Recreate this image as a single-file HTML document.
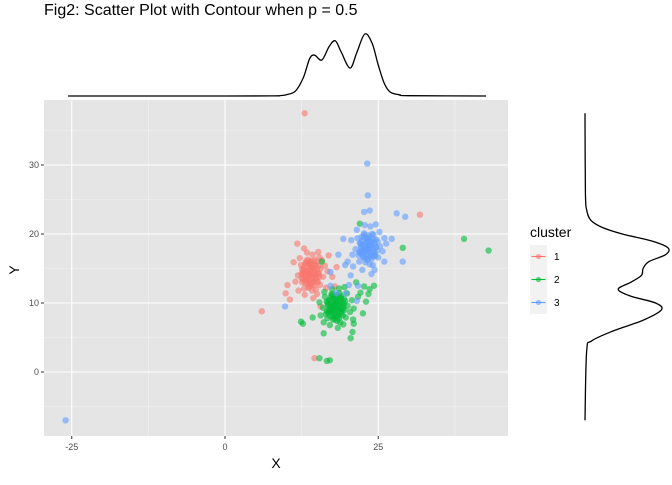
<!DOCTYPE html>
<html><head><meta charset="utf-8"><style>
body{margin:0;background:#fff;}
svg text{font-family:"Liberation Sans",Arial,sans-serif;}
</style></head><body>
<svg id="chart" width="672" height="480" xmlns="http://www.w3.org/2000/svg">
<text x="44" y="15" font-size="16" fill="#000">Fig2: Scatter Plot with Contour when p = 0.5</text>
<rect x="44" y="100" width="464" height="336" fill="#e5e5e5"/>
<g id="grid"></g>
<g id="points"></g>
<g id="axes"></g>
<path id="topdens" fill="none" stroke="#000" stroke-width="1.3"/>
<path id="rightdens" fill="none" stroke="#000" stroke-width="1.3"/>
<text x="276" y="468" font-size="14" text-anchor="middle">X</text>
<text x="19" y="270" font-size="14" text-anchor="middle" transform="rotate(-90 19 270)">Y</text>
<g>
<text x="530" y="237" font-size="14">cluster</text>
<g id="legend"></g>
</g>
</svg>
<script>
const xTicks=[-25,0,25];
const yTicks=[0,10,20,30];
const xMinor=[-12.5,12.5,37.5];
const yMinor=[-5,5,15,25,35];
const clusterNames=["1","2","3"];
const clusterColors=["#F8766D","#00BA38","#619CFF"];
const cluster1=[[13.2,13.5],[14.5,14.8],[13.8,15.6],[15.1,13.2],[12.8,14.9],[14.0,12.6],[15.6,15.0],[13.5,16.3],[14.9,16.0],[12.6,13.0],[13.9,14.2],[14.6,13.7],[15.3,14.3],[13.1,15.8],[12.4,15.5],[14.2,11.8],[15.8,16.2],[13.6,12.2],[14.8,12.0],[12.9,12.1],[16.0,13.8],[11.9,14.0],[14.3,17.0],[13.4,17.3],[15.2,17.4],[12.2,16.5],[16.3,15.4],[11.5,13.1],[13.0,11.2],[15.0,11.3],[14.1,15.2],[13.7,13.9],[14.7,15.5],[12.7,14.2],[15.5,12.6],[16.7,14.6],[14.4,10.7],[12.0,11.8],[11.2,15.9],[16.5,12.2],[13.3,14.6],[14.9,14.1],[13.6,13.1],[12.5,14.3],[15.4,16.6],[14.0,16.1],
[13.9,14.2],[13.4,14.0],[14.4,14.5],[13.6,14.9],[14.2,13.5],[13.1,14.6],[14.7,14.1],[13.8,13.2],[14.1,15.3],[13.3,13.4],[14.6,15.0],[13.0,13.9],[14.9,13.6],[13.7,15.6],[14.3,12.9],[12.9,15.2],[15.0,14.8],[13.5,12.8],[14.0,16.0],[12.7,13.4],[15.2,14.3],[13.2,15.7],[14.5,12.6],[13.9,14.8],[14.2,14.0],[13.5,14.4],[14.8,15.5],[12.8,14.4],[13.6,13.7],[14.4,13.1],[15.1,13.0],[13.1,12.9],[14.0,15.7],[12.6,14.9],[15.3,15.4],[13.8,12.4],[14.6,16.2],[13.3,16.1],[12.5,13.6],[15.4,13.8],
[13,37.5],[6,8.8],[31.8,22.8],[14.6,2],[10.6,10.5],[10.2,12.6],[17.5,13.8],[18.2,15.2],[16.9,16.9],[12.9,17.9],[11.8,18.6],[9.9,11.4],[17.9,12.4],[15.6,9.5]];
const cluster2=[[17.2,8.8],[18.5,9.9],[17.8,10.6],[19.2,9.1],[16.8,9.7],[18.0,8.1],[19.6,10.3],[17.4,11.2],[18.9,11.0],[16.5,8.4],[18.2,9.4],[19.0,8.5],[20.0,9.6],[17.0,10.4],[16.3,10.9],[18.3,7.4],[19.9,11.4],[17.6,7.6],[18.8,7.2],[16.7,7.8],[20.4,8.7],[16.0,9.3],[18.6,12.1],[17.5,12.0],[19.5,12.3],[16.2,11.6],[20.7,10.4],[15.6,8.2],[17.1,6.8],[19.3,6.9],[18.1,10.1],[17.7,9.2],[18.7,10.7],[16.9,8.9],[19.7,7.9],[21.0,9.2],[18.4,6.4],[16.1,7.2],[15.4,10.1],[20.9,7.6],[17.9,9.8],[18.6,8.9],[17.3,9.5],[19.4,9.9],[16.6,10.2],
[18.0,9.4],[17.5,9.2],[18.5,9.7],[17.7,10.1],[18.3,8.7],[17.2,9.8],[18.8,9.3],[17.9,8.4],[18.2,10.5],[17.4,8.6],[18.7,10.2],[17.1,9.1],[19.0,8.8],[17.8,10.8],[18.4,8.1],[17.0,10.4],[19.1,10.0],[17.6,8.0],[18.1,11.2],[16.8,8.6],[19.3,9.5],[17.3,10.9],[18.6,7.8],[18.0,10.0],[18.3,9.2],[17.6,9.6],[18.9,10.7],[16.9,9.6],[17.7,8.9],[18.5,8.3],[19.2,8.2],[17.2,8.1],[18.1,10.9],[16.7,10.1],[19.4,10.6],[17.9,7.6],[18.7,11.4],[17.4,11.3],[16.6,8.8],[19.5,9.0],
[15.4,2],[16.6,1.6],[17.1,1.7],[12.4,7.3],[12.7,7],[20.8,5.8],[22,21.5],[29,18],[39,19.3],[43,17.6],[22.7,12.4],[23.6,12],[23.4,11.3],[21.4,13],[24.3,12.5],[22.1,11.5],[21.7,10.9],[15.8,16],[14.3,7.9],[20.5,4.9],[16.1,5.6],[22.5,8.5],[23,10.2],[21,7]];
const cluster3=[[22.5,17.4],[23.8,18.5],[23.1,19.3],[24.5,17.1],[22.1,18.6],[23.3,16.4],[24.9,18.9],[22.7,20.1],[24.2,19.9],[21.8,16.9],[23.5,17.9],[24.3,16.8],[25.3,18.2],[22.3,19.6],[21.6,19.4],[23.6,15.6],[25.2,20.3],[22.9,15.9],[24.1,15.5],[21.9,16.0],[25.7,17.5],[21.3,17.8],[23.7,21.1],[22.8,21.3],[24.6,21.4],[21.5,20.6],[26.0,19.4],[20.8,17.0],[22.4,14.8],[24.4,14.8],[23.4,18.3],[23.0,17.7],[24.0,19.0],[22.2,18.0],[25.0,16.6],[26.3,18.6],[23.9,14.2],[20.9,15.3],[20.6,19.1],[26.0,16.0],[23.2,18.8],[24.6,18.1],[22.6,16.6],[23.9,17.3],[22.0,17.3],
[23.3,18.0],[22.8,17.8],[23.8,18.3],[23.0,18.7],[23.6,17.3],[22.5,18.4],[24.1,17.9],[23.2,17.0],[23.5,19.1],[22.7,17.2],[24.0,18.8],[22.4,17.7],[24.3,17.4],[23.1,19.4],[23.7,16.7],[22.3,19.0],[24.4,18.6],[22.9,16.6],[23.4,19.8],[22.1,17.2],[24.6,18.1],[22.6,19.5],[23.9,16.4],[23.3,18.6],[23.6,17.8],[22.9,18.2],[24.2,19.3],[22.2,18.2],[23.0,17.5],[23.8,16.9],[24.5,16.8],[22.5,16.7],[23.4,19.5],[22.0,18.7],[24.7,19.2],[23.2,16.2],[24.0,20.0],[22.7,19.9],[21.9,17.4],[24.8,17.6],
[-26,-7],[23.2,30.2],[23.3,25.6],[22.7,23.2],[23.6,23.4],[28,23],[29.4,22.5],[27.2,19.3],[29,16],[19.3,19.3],[19.6,15.5],[20,16],[18.5,17],[17.2,14.5],[9.8,9.5],[17.2,12.5],[21.7,12.5],[20.2,12.6],[19.7,11.4],[21.5,10.3],[18.2,11.4],[20.5,14]];
const xDensX=[-25.6,0,8,9,10,11.5,12.8,13.8,14.6,15.8,17,18,19,20.4,21.5,22.8,24,25,26,27,28.5,30,42.6];
const xDensV=[0,0,0.002,0.006,0.02,0.08,0.3,0.6,0.66,0.58,0.8,0.89,0.7,0.45,0.7,1.0,0.85,0.5,0.2,0.06,0.02,0.005,0];
const yDensY=[-7,3,4.5,6,7.5,9,10,11,12,13,14,15,16,17,18,19,20,21,22,23.5,26,37.5];
const yDensV=[0,0.02,0.08,0.35,0.7,0.92,0.85,0.55,0.4,0.55,0.68,0.7,0.77,0.97,1.0,0.8,0.45,0.2,0.07,0.02,0.005,0];

const NS="http://www.w3.org/2000/svg";
const sx=v=>225+v*6.13;
const sy=v=>372-v*6.9;
function mk(t,a,p){const e=document.createElementNS(NS,t);for(const k in a)e.setAttribute(k,a[k]);p.appendChild(e);return e;}
const grid=document.getElementById('grid');
xMinor.forEach(v=>{const l=mk('line',{x1:sx(v),x2:sx(v),y1:100,y2:436,stroke:'#f2f2f2','stroke-width':0.6},grid);

});
yMinor.forEach(v=>{const l=mk('line',{x1:44,x2:508,y1:sy(v),y2:sy(v),stroke:'#f2f2f2','stroke-width':0.6},grid);

});
const axes=document.getElementById('axes');
xTicks.forEach(v=>{const l=mk('line',{x1:sx(v),x2:sx(v),y1:100,y2:436,stroke:'#fff','stroke-width':1.1},grid);


const t=mk('line',{x1:sx(v),x2:sx(v),y1:436,y2:439,stroke:'#333','stroke-width':1},axes);


const tx=mk('text',{x:sx(v),y:450,'font-size':9,fill:'#4d4d4d','text-anchor':'middle'},axes);tx.textContent=v;

});
yTicks.forEach(v=>{const l=mk('line',{x1:44,x2:508,y1:sy(v),y2:sy(v),stroke:'#fff','stroke-width':1.1},grid);


const t=mk('line',{x1:41,x2:44,y1:sy(v),y2:sy(v),stroke:'#333','stroke-width':1},axes);


const tx=mk('text',{x:39,y:sy(v)+3,'font-size':9,fill:'#4d4d4d','text-anchor':'end'},axes);tx.textContent=v;

});
const pts=document.getElementById('points');
[cluster1,cluster2,cluster3].forEach((arr,i)=>{arr.forEach(p=>{
const c=mk('circle',{cx:sx(p[0]),cy:sy(p[1]),r:3.2,fill:clusterColors[i],'fill-opacity':0.6},pts);

});});
function spline(P){let d='M'+P[0][0]+','+P[0][1];for(let i=0;i<P.length-1;i++){const p0=P[Math.max(i-1,0)],p1=P[i],p2=P[i+1],p3=P[Math.min(i+2,P.length-1)];
d+=' C'+(p1[0]+(p2[0]-p0[0])/6)+','+(p1[1]+(p2[1]-p0[1])/6)+' '+(p2[0]-(p3[0]-p1[0])/6)+','+(p2[1]-(p3[1]-p1[1])/6)+' '+p2[0]+','+p2[1];}return d;}
document.getElementById('topdens').setAttribute('d',spline(xDensX.map((x,i)=>[sx(x),96-xDensV[i]*62])));
document.getElementById('rightdens').setAttribute('d',spline(yDensY.map((y,i)=>[585+yDensV[i]*83,sy(y)])));
const lg=document.getElementById('legend');
clusterNames.forEach((n,i)=>{const y=245+i*23;
const r=mk('rect',{x:530,y:y,width:17,height:23,fill:'#f2f2f2'},lg);


const l=mk('line',{x1:531.5,x2:545.5,y1:y+11.5,y2:y+11.5,stroke:clusterColors[i],'stroke-width':1.1},lg);


const c=mk('circle',{cx:538.5,cy:y+11.5,r:2.6,fill:clusterColors[i],'fill-opacity':0.6},lg);


const t=mk('text',{x:554,y:y+15,'font-size':10,fill:'#000'},lg);t.textContent=n;

});
</script>
</body></html>
